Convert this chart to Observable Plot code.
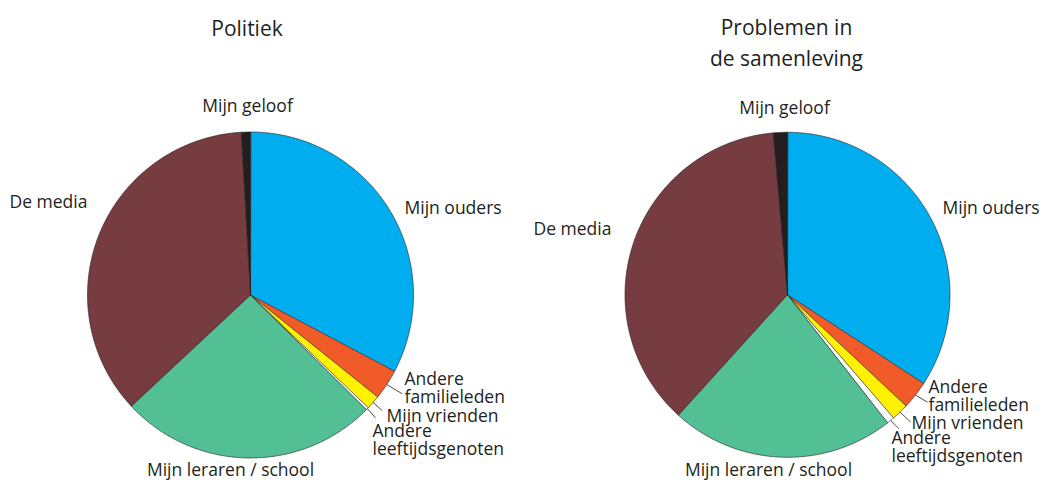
<!DOCTYPE html>
<html>
<head>
<meta charset="utf-8">
<script src="https://cdn.jsdelivr.net/npm/d3@7"></script>
<script src="https://cdn.jsdelivr.net/npm/@observablehq/plot@0.6"></script>
<style>
  html, body { margin: 0; padding: 0; background: #fff; }
  #chart svg { display: block; }
</style>
</head>
<body>
<div id="chart"></div>
<script>
// ---------- data ----------
const categories = ["Mijn ouders", "Andere familieleden", "Mijn vrienden", "Andere leeftijdsgenoten", "Mijn leraren / school", "De media", "Mijn geloof"];
const labelTexts = ["Mijn ouders", "Andere\nfamilieleden", "Mijn vrienden", "Andere\nleeftijdsgenoten", "Mijn leraren / school", "De media", "Mijn geloof"];
const politiek = [32.7, 3.0, 1.4, 0.25, 25.6, 36.0, 0.9];
const samenleving = [34.2, 2.8, 1.7, 0.75, 22.3, 36.9, 1.4];
const titles = ["Politiek", "Problemen in\nde samenleving"];
const colors = ["#00aeef", "#f15a29", "#fff200", "#ffffff", "#52bf94", "#763c3f", "#231f20"];

// ---------- layout ----------
const W = 1045, H = 481;
const pies = [
  {values: politiek, cx: 250, cy: 294.5, r: 163, title: titles[0], titleX: 246.5, titleY: 35,
   labels: [[154,-81,"start"],[154,107.5,"start"],[136,126.5,"start"],[122,159.5,"start"],[-20,180.5,"middle"],[-241,-87.5,"start"],[-3,-183.5,"middle"]],
   leaders: {1:[151.7,98.8], 2:[131.7,115.5], 3:[125,122.8]}},
  {values: samenleving, cx: 787, cy: 294.3, r: 162.5, title: titles[1], titleX: 786, titleY: 65,
   labels: [[155,-81,"start"],[141,116,"start"],[124,134,"start"],[104,167,"start"],[-19,181,"middle"],[-254,-60,"start"],[-3,-181,"middle"]],
   leaders: {1:[140,107.4], 2:[123.3,127.4], 3:[111.6,134]}}
];

const pieGen = d3.pie().sort(null).value(d => d).startAngle(0).endAngle(2 * Math.PI);
const polyPts = [], labelRows = [], leaderRows = [], titleRows = [];
pies.forEach((p, pi) => {
  const arcs = pieGen(p.values);
  arcs.forEach((a, i) => {
    const id = pi + "-" + i;
    polyPts.push({id, cat: categories[i], x: p.cx, y: p.cy});
    const n = Math.max(2, Math.ceil((a.endAngle - a.startAngle) / (Math.PI / 360)));
    for (let k = 0; k <= n; k++) {
      const t = a.startAngle + (a.endAngle - a.startAngle) * k / n;
      polyPts.push({id, cat: categories[i], x: p.cx + p.r * Math.sin(t), y: p.cy - p.r * Math.cos(t)});
    }
    const lab = p.labels[i];
    labelRows.push({text: labelTexts[i], x: p.cx + lab[0], y: p.cy + lab[1], anchor: lab[2]});
    if (p.leaders[i]) {
      const m = (a.startAngle + a.endAngle) / 2;
      const e = p.leaders[i];
      leaderRows.push({x1: p.cx + p.r * Math.sin(m), y1: p.cy - p.r * Math.cos(m), x2: p.cx + e[0], y2: p.cy + e[1]});
    }
  });
  titleRows.push({text: p.title, x: p.titleX, y: p.titleY});
});

const font = "'Open Sans', 'DejaVu Sans', sans-serif";
const chart = Plot.plot({
  width: W, height: H,
  margin: 0,
  x: {domain: [0, W], range: [0, W], axis: null},
  y: {domain: [0, H], range: [0, H], axis: null},
  color: {domain: categories, range: colors},
  style: {fontFamily: font, color: "#231f20", background: "#fff"},
  marks: [
    Plot.line(polyPts, {x: "x", y: "y", z: "id", fill: "cat", stroke: "#231f20", strokeWidth: 0.6, curve: "linear-closed", strokeLinejoin: "round"}),
    Plot.link(leaderRows, {x1: "x1", y1: "y1", x2: "x2", y2: "y2", stroke: "#231f20", strokeWidth: 0.8}),
    Plot.text(labelRows.filter(d => d.anchor === "start"), {x: "x", y: "y", text: "text", textAnchor: "start", lineAnchor: "bottom", fontSize: 17.5, lineHeight: 1.0, fill: "#231f20"}),
    Plot.text(labelRows.filter(d => d.anchor === "middle"), {x: "x", y: "y", text: "text", textAnchor: "middle", lineAnchor: "bottom", fontSize: 17.5, fill: "#231f20"}),
    Plot.text(titleRows, {x: "x", y: "y", text: "text", textAnchor: "middle", lineAnchor: "bottom", fontSize: 21, lineHeight: 1.43, fill: "#231f20"})
  ]
});
document.getElementById("chart").appendChild(chart);
</script>
</body>
</html>
